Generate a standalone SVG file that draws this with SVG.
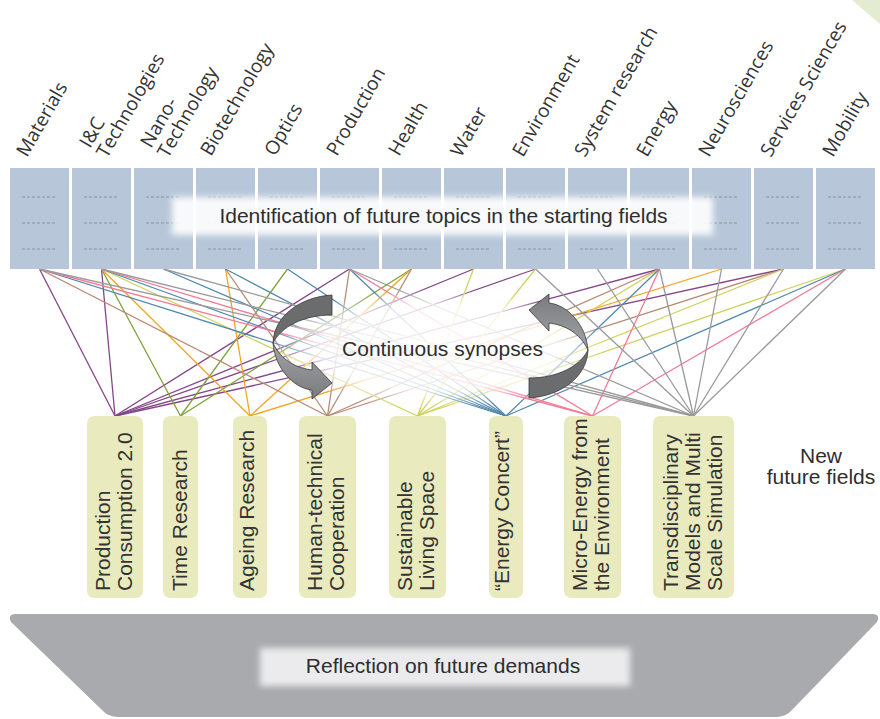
<svg xmlns="http://www.w3.org/2000/svg" width="880" height="719" viewBox="0 0 880 719">
<defs>
<style>
.fbox{fill:#b7c7d9}
.dash{stroke:#8b929b;stroke-width:1;stroke-dasharray:3 2;fill:none}
.flab{font-family:"Open Sans","Liberation Sans",sans-serif;font-size:19px;fill:#333}
.nbox{fill:#eaeabf}
.nlab{font-family:"Liberation Sans",Arial,sans-serif;font-size:21px;fill:#333}
.cap{font-family:"Liberation Sans",Arial,sans-serif;font-size:21px;fill:#2e2e2e}
#connectors line{stroke-width:1.3;fill:none}
.c1{stroke:#84458a}.c2{stroke:#7ba33a}.c3{stroke:#f5a41e}.c4{stroke:#b88a74}
.c5{stroke:#cfd35a}.c6{stroke:#4f88ad}.c7{stroke:#f27b95}.c8{stroke:#9a9a9a}
.face{stroke:#3a3a3a;stroke-width:0.8;stroke-linejoin:round}
</style>
<filter id="soft" x="-10%" y="-60%" width="120%" height="220%"><feGaussianBlur stdDeviation="3"/></filter>
<radialGradient id="glow" cx="0.5" cy="0.5" r="0.5">
<stop offset="0" stop-color="#fff" stop-opacity="0.92"/>
<stop offset="0.7" stop-color="#fff" stop-opacity="0.8"/>
<stop offset="1" stop-color="#fff" stop-opacity="0"/>
</radialGradient>
<linearGradient id="light" x1="0" y1="0" x2="0" y2="1">
<stop offset="0" stop-color="#a2a3a6"/>
<stop offset="1" stop-color="#7a7b7e"/>
</linearGradient>
<g id="arrow">
<path class="face" fill="#6b6c6e" d="M332,295 C300,297 274,316 273,343 C281,327 303,315 332,315 Z"/>
<path class="face" fill="url(#light)" d="M273,343 C275,368 293,388 312,390 L312,399 L332,383 L312,362 L312,370 C296,368 281,360 273,343 Z"/>
</g>
</defs>
<rect width="880" height="719" fill="#fff"/>
<polygon points="852,0 880,0 880,24" fill="#e3ecd0"/>

<g id="connectors">
<line class="c1" x1="39.5" y1="269" x2="115" y2="416"/>
<line class="c1" x1="101.5" y1="269" x2="115" y2="416"/>
<line class="c1" x1="349.5" y1="269" x2="115" y2="416"/>
<line class="c1" x1="473.5" y1="269" x2="115" y2="416"/>
<line class="c1" x1="535.5" y1="269" x2="115" y2="416"/>
<line class="c1" x1="659.5" y1="269" x2="115" y2="416"/>
<line class="c1" x1="783.5" y1="269" x2="115" y2="416"/>
<line class="c2" x1="101.5" y1="269" x2="180.5" y2="416"/>
<line class="c2" x1="287.5" y1="269" x2="180.5" y2="416"/>
<line class="c2" x1="411.5" y1="269" x2="180.5" y2="416"/>
<line class="c3" x1="101.5" y1="269" x2="250" y2="416"/>
<line class="c3" x1="225.5" y1="269" x2="250" y2="416"/>
<line class="c3" x1="411.5" y1="269" x2="250" y2="416"/>
<line class="c3" x1="721.5" y1="269" x2="250" y2="416"/>
<line class="c4" x1="39.5" y1="269" x2="327.5" y2="416"/>
<line class="c4" x1="225.5" y1="269" x2="327.5" y2="416"/>
<line class="c4" x1="349.5" y1="269" x2="327.5" y2="416"/>
<line class="c4" x1="411.5" y1="269" x2="327.5" y2="416"/>
<line class="c4" x1="659.5" y1="269" x2="327.5" y2="416"/>
<line class="c4" x1="783.5" y1="269" x2="327.5" y2="416"/>
<line class="c5" x1="101.5" y1="269" x2="417.5" y2="416"/>
<line class="c5" x1="473.5" y1="269" x2="417.5" y2="416"/>
<line class="c5" x1="535.5" y1="269" x2="417.5" y2="416"/>
<line class="c5" x1="659.5" y1="269" x2="417.5" y2="416"/>
<line class="c5" x1="783.5" y1="269" x2="417.5" y2="416"/>
<line class="c5" x1="845.5" y1="269" x2="417.5" y2="416"/>
<line class="c6" x1="39.5" y1="269" x2="506" y2="416"/>
<line class="c6" x1="101.5" y1="269" x2="506" y2="416"/>
<line class="c6" x1="163.5" y1="269" x2="506" y2="416"/>
<line class="c6" x1="225.5" y1="269" x2="506" y2="416"/>
<line class="c6" x1="287.5" y1="269" x2="506" y2="416"/>
<line class="c6" x1="349.5" y1="269" x2="506" y2="416"/>
<line class="c6" x1="659.5" y1="269" x2="506" y2="416"/>
<line class="c6" x1="845.5" y1="269" x2="506" y2="416"/>
<line class="c7" x1="39.5" y1="269" x2="592.5" y2="416"/>
<line class="c7" x1="101.5" y1="269" x2="592.5" y2="416"/>
<line class="c7" x1="349.5" y1="269" x2="592.5" y2="416"/>
<line class="c7" x1="659.5" y1="269" x2="592.5" y2="416"/>
<line class="c7" x1="845.5" y1="269" x2="592.5" y2="416"/>
<line class="c8" x1="39.5" y1="269" x2="693.5" y2="416"/>
<line class="c8" x1="101.5" y1="269" x2="693.5" y2="416"/>
<line class="c8" x1="163.5" y1="269" x2="693.5" y2="416"/>
<line class="c8" x1="349.5" y1="269" x2="693.5" y2="416"/>
<line class="c8" x1="535.5" y1="269" x2="693.5" y2="416"/>
<line class="c8" x1="597.5" y1="269" x2="693.5" y2="416"/>
<line class="c8" x1="659.5" y1="269" x2="693.5" y2="416"/>
<line class="c8" x1="721.5" y1="269" x2="693.5" y2="416"/>
<line class="c8" x1="783.5" y1="269" x2="693.5" y2="416"/>
<line class="c8" x1="845.5" y1="269" x2="693.5" y2="416"/>
</g>

<g id="synopses">
<ellipse cx="438" cy="348" rx="170" ry="60" fill="url(#glow)"/>
<use href="#arrow"/>
<use href="#arrow" transform="rotate(180 430.5 346.5)"/>
<text class="cap" x="442.5" y="356" text-anchor="middle">Continuous synopses</text>
</g>

<g id="fields">
<g id="f-materials"><rect class="fbox" x="10" y="168" width="59" height="101"/><path class="dash" d="M22,197H57M22,223H57M22,249H57"/><text class="flab" transform="rotate(-60 27 158)" x="27" y="158">Materials</text></g>
<g id="f-ict"><rect class="fbox" x="72" y="168" width="59" height="101"/><path class="dash" d="M84,197H119M84,223H119M84,249H119"/><text class="flab" transform="rotate(-60 90 149)" x="90" y="149">I&amp;C</text><text class="flab" transform="rotate(-60 107 159)" x="107" y="159">Technologies</text></g>
<g id="f-nano"><rect class="fbox" x="134" y="168" width="59" height="101"/><path class="dash" d="M146,197H181M146,223H181M146,249H181"/><text class="flab" transform="rotate(-60 151 149)" x="151" y="149">Nano-</text><text class="flab" transform="rotate(-60 168 159)" x="168" y="159">Technology</text></g>
<g id="f-bio"><rect class="fbox" x="196" y="168" width="59" height="101"/><path class="dash" d="M208,197H243M208,223H243M208,249H243"/><text class="flab" transform="rotate(-60 211 157)" x="211" y="157">Biotechnology</text></g>
<g id="f-optics"><rect class="fbox" x="258" y="168" width="59" height="101"/><path class="dash" d="M270,197H305M270,223H305M270,249H305"/><text class="flab" transform="rotate(-60 275 157)" x="275" y="157">Optics</text></g>
<g id="f-production"><rect class="fbox" x="320" y="168" width="59" height="101"/><path class="dash" d="M332,197H367M332,223H367M332,249H367"/><text class="flab" transform="rotate(-60 337 157)" x="337" y="157">Production</text></g>
<g id="f-health"><rect class="fbox" x="382" y="168" width="59" height="101"/><path class="dash" d="M394,197H429M394,223H429M394,249H429"/><text class="flab" transform="rotate(-60 399 157)" x="399" y="157">Health</text></g>
<g id="f-water"><rect class="fbox" x="444" y="168" width="59" height="101"/><path class="dash" d="M456,197H491M456,223H491M456,249H491"/><text class="flab" transform="rotate(-60 461 158)" x="461" y="158">Water</text></g>
<g id="f-environment"><rect class="fbox" x="506" y="168" width="59" height="101"/><path class="dash" d="M518,197H553M518,223H553M518,249H553"/><text class="flab" transform="rotate(-60 523 158)" x="523" y="158">Environment</text></g>
<g id="f-system"><rect class="fbox" x="568" y="168" width="59" height="101"/><path class="dash" d="M580,197H615M580,223H615M580,249H615"/><text class="flab" transform="rotate(-60 585 158)" x="585" y="158">System research</text></g>
<g id="f-energy"><rect class="fbox" x="630" y="168" width="59" height="101"/><path class="dash" d="M642,197H677M642,223H677M642,249H677"/><text class="flab" transform="rotate(-60 647 158)" x="647" y="158">Energy</text></g>
<g id="f-neuro"><rect class="fbox" x="692" y="168" width="59" height="101"/><path class="dash" d="M704,197H739M704,223H739M704,249H739"/><text class="flab" transform="rotate(-60 709 158)" x="709" y="158">Neurosciences</text></g>
<g id="f-services"><rect class="fbox" x="754" y="168" width="59" height="101"/><path class="dash" d="M766,197H801M766,223H801M766,249H801"/><text class="flab" transform="rotate(-60 771 158)" x="771" y="158">Services Sciences</text></g>
<g id="f-mobility"><rect class="fbox" x="816" y="168" width="59" height="101"/><path class="dash" d="M828,197H863M828,223H863M828,249H863"/><text class="flab" transform="rotate(-60 833 158)" x="833" y="158">Mobility</text></g>
</g>

<g id="identification">
<rect x="172" y="197" width="541" height="38" fill="#fff" opacity="0.9" filter="url(#soft)"/>
<text class="cap" x="443.5" y="223" text-anchor="middle" font-size="21.7px">Identification of future topics in the starting fields</text>
</g>

<g id="new-fields">
<g id="n-prodcons"><rect class="nbox" x="87" y="416" width="56" height="182" rx="7"/><text class="nlab" transform="rotate(-90 110 591)" x="110" y="591">Production</text><text class="nlab" transform="rotate(-90 132 591)" x="132" y="591">Consumption 2.0</text></g>
<g id="n-time"><rect class="nbox" x="163" y="416" width="35" height="182" rx="7"/><text class="nlab" transform="rotate(-90 187 591)" x="187" y="591">Time Research</text></g>
<g id="n-ageing"><rect class="nbox" x="233" y="416" width="34" height="182" rx="7"/><text class="nlab" transform="rotate(-90 254 591)" x="254" y="591">Ageing Research</text></g>
<g id="n-human"><rect class="nbox" x="299" y="416" width="57" height="182" rx="7"/><text class="nlab" transform="rotate(-90 322 591)" x="322" y="591">Human-technical</text><text class="nlab" transform="rotate(-90 344 591)" x="344" y="591">Cooperation</text></g>
<g id="n-living"><rect class="nbox" x="389" y="416" width="57" height="182" rx="7"/><text class="nlab" transform="rotate(-90 412 591)" x="412" y="591">Sustainable</text><text class="nlab" transform="rotate(-90 434 591)" x="434" y="591">Living Space</text></g>
<g id="n-concert"><rect class="nbox" x="489" y="416" width="34" height="182" rx="7"/><text class="nlab" transform="rotate(-90 509 591)" x="509" y="591">“Energy Concert”</text></g>
<g id="n-micro"><rect class="nbox" x="564" y="416" width="57" height="182" rx="7"/><text class="nlab" transform="rotate(-90 587 591)" x="587" y="591">Micro-Energy from</text><text class="nlab" transform="rotate(-90 609 591)" x="609" y="591">the Environment</text></g>
<g id="n-trans"><rect class="nbox" x="653" y="416" width="81" height="182" rx="7"/><text class="nlab" transform="rotate(-90 678 591)" x="678" y="591">Transdisciplinary</text><text class="nlab" transform="rotate(-90 700 591)" x="700" y="591">Models and Multi</text><text class="nlab" transform="rotate(-90 722 591)" x="722" y="591">Scale Simulation</text></g>
</g>

<g id="new-fields-label">
<text class="cap" x="821" y="463" text-anchor="middle">New</text>
<text class="cap" x="821" y="484" text-anchor="middle">future fields</text>
</g>

<g id="reflection">
<path d="M16,614 L872,614 Q881,614 877,622 L792,710 Q786,717 776,717 L118,717 Q108,717 102,710 L11,622 Q7,614 16,614 Z" fill="#a9aaad"/>
<rect x="260" y="648" width="370" height="38" fill="#ebebed" filter="url(#soft)"/>
<text class="cap" x="443" y="673" text-anchor="middle">Reflection on future demands</text>
</g>
</svg>
